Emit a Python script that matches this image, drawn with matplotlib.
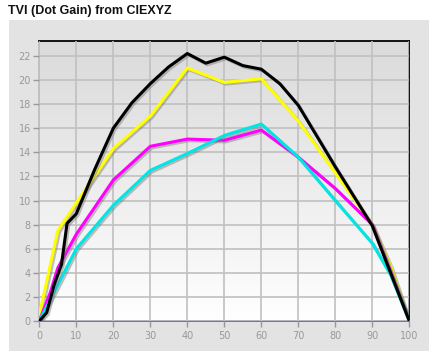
import numpy as np
import matplotlib
matplotlib.use("Agg")
from matplotlib import pyplot as plt
from matplotlib import patheffects as pe
from matplotlib.patches import Rectangle

title = "TVI (Dot Gain) from CIEXYZ"

# tone value (%) vs dot gain
yellow_x = [0, 5, 10, 20, 30, 40, 50, 60, 70, 80, 90, 95, 100]
yellow_y = [0.5, 7.5, 9.8, 14.3, 17.0, 21.0, 19.8, 20.1, 16.6, 12.3, 8.0, 4.5, 0]

black_x = [0, 2, 4, 6, 7.5, 10, 15, 20, 25, 30, 35, 40, 45, 50, 55, 60, 65, 70, 80, 90, 100]
black_y = [0, 0.7, 3.0, 4.7, 8.1, 8.9, 12.6, 16.0, 18.1, 19.7, 21.1, 22.2, 21.4, 21.9,
           21.2, 20.9, 19.7, 17.9, 12.8, 7.9, 0]

magenta_x = [0, 3, 5, 10, 20, 30, 40, 50, 60, 70, 80, 90, 95, 100]
magenta_y = [0, 2.4, 4.4, 7.2, 11.7, 14.5, 15.1, 15.0, 15.85, 13.6, 11.0, 8.0, 4.1, 0]

cyan_x = [0, 2, 10, 20, 30, 40, 50, 60, 70, 80, 90, 95, 100]
cyan_y = [0, 1.2, 6.0, 9.6, 12.5, 13.9, 15.4, 16.35, 13.6, 10.0, 6.45, 3.8, 0]

x_ticks = list(range(0, 101, 10))
y_ticks = list(range(0, 23, 2))

fig = plt.figure(figsize=(4.36, 3.58), dpi=100)
fig.patch.set_facecolor("white")

# grey panel behind the plot
fig.patches.append(Rectangle((9 / 436, 1 - 351 / 358), 420 / 436, 331 / 358,
                             transform=fig.transFigure, facecolor="#e3e3e3",
                             edgecolor="none", zorder=-10))

fig.text(8 / 436, 1 - 11 / 358, title, fontsize=9, fontweight="bold",
         family="Liberation Sans", va="center", ha="left", color="#111111")

ax = fig.add_axes([39.3 / 436, 1 - 321 / 358, 370 / 436, 280 / 358])
ax.set_xlim(0, 100)
ax.set_ylim(0, 23.24)

# gradient background
grad = np.linspace(0, 1, 256).reshape(-1, 1)
cmap = matplotlib.colors.LinearSegmentedColormap.from_list("bg", ["#ffffff", "#dadada"])
ax.imshow(grad, aspect="auto", cmap=cmap, origin="lower",
          extent=[0, 100, 0, 23.24], zorder=0)

ax.set_xticks(x_ticks)
ax.set_yticks(y_ticks)
ax.grid(True, color="#c0c0c0", linewidth=1.2, zorder=1)
ax.set_axisbelow(False)
for gl in ax.get_xgridlines() + ax.get_ygridlines():
    gl.set_zorder(1)

ax.tick_params(axis="both", colors="#999999", labelsize=7, length=4, width=1,
               direction="out", pad=2)
ax.tick_params(axis="x", pad=3)

ax.spines["top"].set_color("black")
ax.spines["top"].set_linewidth(1.3)
ax.spines["right"].set_color("black")
ax.spines["right"].set_linewidth(1.3)
ax.spines["left"].set_color("#bdbdbd")
ax.spines["left"].set_linewidth(1.3)
ax.spines["bottom"].set_color("#6464cc")
ax.spines["bottom"].set_linewidth(1.3)

shadow = [pe.SimpleLineShadow(offset=(1.2, -1.2), shadow_color="#777777", alpha=0.45),
          pe.Normal()]

ax.plot(yellow_x, yellow_y, color="#ffff00", lw=2.2, zorder=3, path_effects=shadow)
ax.plot(black_x, black_y, color="#000000", lw=2.2, zorder=4, path_effects=shadow)
ax.plot(magenta_x, magenta_y, color="#ff00ff", lw=2.2, zorder=3, path_effects=shadow)
ax.plot(cyan_x, cyan_y, color="#00e5e5", lw=2.2, zorder=3, path_effects=shadow)

fig.savefig("out.png", dpi=100)
